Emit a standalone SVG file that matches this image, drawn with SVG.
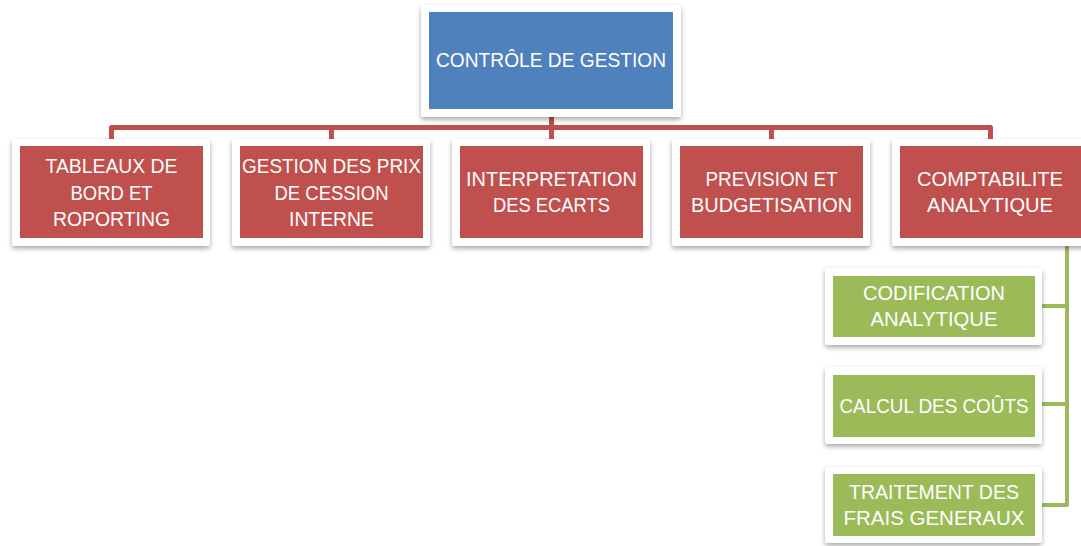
<svg xmlns="http://www.w3.org/2000/svg" width="1081" height="546" viewBox="0 0 1081 546">
<defs>
<filter id="sh" x="-10%" y="-10%" width="120%" height="130%">
<feDropShadow dx="0" dy="2.5" stdDeviation="2.5" flood-color="#000" flood-opacity="0.35"/>
</filter>
<style>
.frame{fill:#fff;filter:url(#sh)}
.blue{fill:#4F81BD}
.red{fill:#C0504D}
.green{fill:#9BBB59}
.t{fill:#fff;font-family:"Liberation Sans",Arial,sans-serif;font-size:21px;text-anchor:middle}
.cr{fill:none;stroke:#C0504D;stroke-width:5;stroke-linejoin:round}
.cg{fill:none;stroke:#9BBB59;stroke-width:4;stroke-linejoin:round}
</style>
</defs>
<rect width="1081" height="546" fill="#fff"/>
<g id="connectors">
<path class="cr" d="M111.5,139 V127.5 H990.5 V139"/>
<path class="cr" d="M551.5,117 V139"/>
<path class="cr" d="M331.5,127.5 V139 M771.5,127.5 V139"/>
<path class="cg" d="M1067,238 V505 H1042 M1042,306 H1067 M1042,404 H1067"/>
</g>
<g id="n0">
<rect class="frame" x="421" y="5" width="260" height="112" rx="3"/>
<rect class="blue" x="429" y="12" width="244" height="97"/>
<text class="t" x="551" y="67" textLength="230" lengthAdjust="spacingAndGlyphs">CONTRÔLE DE GESTION</text>
</g>
<g id="n1">
<rect class="frame" x="12" y="139" width="198" height="107" rx="3"/>
<rect class="red" x="20" y="146" width="183" height="92"/>
<text class="t" x="111.5" y="173" textLength="132" lengthAdjust="spacingAndGlyphs">TABLEAUX DE</text>
<text class="t" x="111.5" y="199.5" textLength="82" lengthAdjust="spacingAndGlyphs">BORD ET</text>
<text class="t" x="111.5" y="226" textLength="117" lengthAdjust="spacingAndGlyphs">ROPORTING</text>
</g>
<g id="n2">
<rect class="frame" x="232" y="139" width="198" height="107" rx="3"/>
<rect class="red" x="240" y="146" width="183" height="92"/>
<text class="t" x="331.5" y="173" textLength="179" lengthAdjust="spacingAndGlyphs">GESTION DES PRIX</text>
<text class="t" x="331.5" y="199.5" textLength="114" lengthAdjust="spacingAndGlyphs">DE CESSION</text>
<text class="t" x="331.5" y="226" textLength="85" lengthAdjust="spacingAndGlyphs">INTERNE</text>
</g>
<g id="n3">
<rect class="frame" x="452" y="139" width="198" height="107" rx="3"/>
<rect class="red" x="460" y="146" width="183" height="92"/>
<text class="t" x="551.5" y="186" textLength="171" lengthAdjust="spacingAndGlyphs">INTERPRETATION</text>
<text class="t" x="551.5" y="212" textLength="117" lengthAdjust="spacingAndGlyphs">DES ECARTS</text>
</g>
<g id="n4">
<rect class="frame" x="672" y="139" width="198" height="107" rx="3"/>
<rect class="red" x="680" y="146" width="183" height="92"/>
<text class="t" x="771.5" y="186" textLength="132" lengthAdjust="spacingAndGlyphs">PREVISION ET</text>
<text class="t" x="771.5" y="212" textLength="161" lengthAdjust="spacingAndGlyphs">BUDGETISATION</text>
</g>
<g id="n5">
<rect class="frame" x="892" y="139" width="198" height="107" rx="3"/>
<rect class="red" x="900" y="146" width="183" height="92"/>
<text class="t" x="990" y="186" textLength="146" lengthAdjust="spacingAndGlyphs">COMPTABILITE</text>
<text class="t" x="990" y="212" textLength="126" lengthAdjust="spacingAndGlyphs">ANALYTIQUE</text>
</g>
<g id="n6">
<rect class="frame" x="825" y="268" width="217" height="77" rx="3"/>
<rect class="green" x="833" y="276" width="202" height="61"/>
<text class="t" x="934" y="300" textLength="142" lengthAdjust="spacingAndGlyphs">CODIFICATION</text>
<text class="t" x="934" y="326" textLength="127" lengthAdjust="spacingAndGlyphs">ANALYTIQUE</text>
</g>
<g id="n7">
<rect class="frame" x="825" y="367" width="217" height="77" rx="3"/>
<rect class="green" x="833" y="375" width="202" height="62"/>
<text class="t" x="934" y="413" textLength="189" lengthAdjust="spacingAndGlyphs">CALCUL DES COÛTS</text>
</g>
<g id="n8">
<rect class="frame" x="825" y="467" width="217" height="76" rx="3"/>
<rect class="green" x="833" y="474" width="202" height="62"/>
<text class="t" x="934" y="499" textLength="170" lengthAdjust="spacingAndGlyphs">TRAITEMENT DES</text>
<text class="t" x="934" y="525" textLength="181" lengthAdjust="spacingAndGlyphs">FRAIS GENERAUX</text>
</g>
</svg>
